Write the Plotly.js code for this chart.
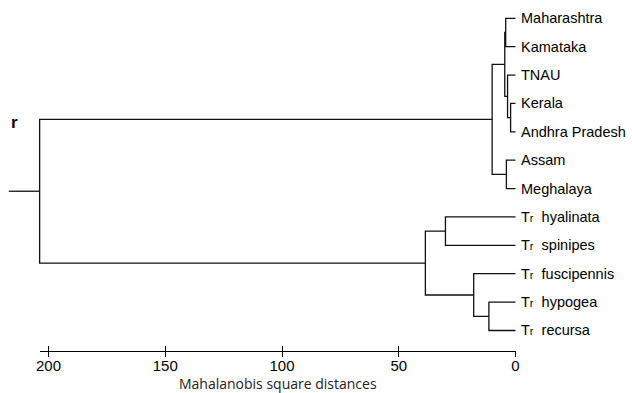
<!DOCTYPE html>
<html>
<head>
<meta charset="utf-8">
<script src="https://cdn.plot.ly/plotly-3.0.1.min.js"></script>
<style>html,body{margin:0;padding:0;background:#fff;}#chart{width:632px;height:393px;}</style>
</head>
<body>
<div id="chart"></div>
<script>
// Leaves, top to bottom
const leafLabels = [
  'Maharashtra', 'Kamataka', 'TNAU', 'Kerala', 'Andhra Pradesh', 'Assam', 'Meghalaya',
  'T<span style="font-size:11px">r</span>\u00a0 hyalinata',
  'T<span style="font-size:11px">r</span>\u00a0 spinipes',
  'T<span style="font-size:11px">r</span>\u00a0 fuscipennis',
  'T<span style="font-size:11px">r</span>\u00a0 hypogea',
  'T<span style="font-size:11px">r</span>\u00a0 recursa'
];
// Linkage (scipy style: leaves 0..11, new clusters 12, 13, ...)
const mergeLeft   = [3, 2, 5, 0, 15, 16, 10, 9, 7, 20, 17];
const mergeRight  = [4, 12, 6, 1, 13, 14, 11, 18, 8, 19, 21];
const mergeHeight = [2.1, 3.4, 3.9, 4.2, 4.6, 10.0, 11.4, 17.9, 30.0, 38.6, 203.8];
const rootStubEnd = 217;
// Axis ticks
const tickValues = [0, 50, 100, 150, 200];
const tickLabels = ['0', '50', '100', '150', '200'];
const axisTitle = 'Mahalanobis square distances';

// Build dendrogram segments
const nLeaves = leafLabels.length;
const nodeX = [], nodeY = [];
for (let i = 0; i < nLeaves; i++) { nodeX.push(0); nodeY.push(i); }
const xs = [], ys = [];
for (let m = 0; m < mergeLeft.length; m++) {
  const a = mergeLeft[m], b = mergeRight[m], h = mergeHeight[m];
  xs.push(nodeX[a], h, h, nodeX[b], null);
  ys.push(nodeY[a], nodeY[a], nodeY[b], nodeY[b], null);
  nodeX.push(h); nodeY.push((nodeY[a] + nodeY[b]) / 2);
}
const root = nodeX.length - 1;
xs.push(nodeX[root], rootStubEnd);
ys.push(nodeY[root], nodeY[root]);

const traces = [
  {x: xs, y: ys, mode: 'lines', type: 'scatter', line: {color: '#111', width: 1.3},
   hoverinfo: 'skip', showlegend: false, xaxis: 'x', yaxis: 'y'},
  {x: [100], y: [0], mode: 'markers', marker: {opacity: 0}, hoverinfo: 'skip', showlegend: false, xaxis: 'x2', yaxis: 'y'},
  {x: [100], y: [0], mode: 'markers', marker: {opacity: 0}, hoverinfo: 'skip', showlegend: false, xaxis: 'x3', yaxis: 'y'}
];

const annotations = leafLabels.map((t, i) => ({
  x: 0, y: i, xref: 'x', yref: 'y', text: t, showarrow: false,
  xanchor: 'left', yanchor: 'middle', xshift: 3,
  font: {family: 'Liberation Sans, Arial, sans-serif', size: 14.5, color: '#000'}
}));
annotations.push({
  x: 14 / 632, y: (351 - 122) / 341, xref: 'paper', yref: 'paper', text: '<b>r</b>',
  showarrow: false, xanchor: 'center', yanchor: 'middle',
  font: {family: 'Liberation Sans, Arial, sans-serif', size: 17, color: '#000'}
});

const axDomain = [40 / 632, 515.5 / 632];
const layout = {
  width: 632, height: 393,
  margin: {l: 0, r: 0, t: 10, b: 42},
  paper_bgcolor: '#fff', plot_bgcolor: 'rgba(0,0,0,0)',
  showlegend: false,
  xaxis: {domain: [0, 1], range: [515.5 / 2.335, -116.5 / 2.335], visible: false, fixedrange: true},
  xaxis2: {
    domain: axDomain, range: [475.5 / 2.335, 0], anchor: 'y', side: 'bottom',
    showline: true, linecolor: '#000', linewidth: 1.3, showgrid: false, zeroline: false,
    ticks: 'outside', ticklen: 5, tickwidth: 1, tickcolor: '#000',
    tickmode: 'array', tickvals: tickValues, ticktext: tickLabels, ticklabelstandoff: -4,
    tickfont: {family: 'Liberation Sans Narrow, Arial Narrow, Liberation Sans, sans-serif', size: 15, color: '#000'},
    title: {text: axisTitle, standoff: 7, font: {family: 'Open Sans, sans-serif', size: 14, color: '#222'}},
    automargin: false
  },
  xaxis3: {
    domain: axDomain, range: [475.5 / 2.335, 0], anchor: 'y', side: 'bottom',
    showline: false, showgrid: false, zeroline: false, showticklabels: false,
    ticks: 'inside', ticklen: 5, tickwidth: 1, tickcolor: '#000',
    tickmode: 'array', tickvals: tickValues
  },
  yaxis: {range: [(351 - 18.3) / 28.38, (10 - 18.3) / 28.38], visible: false, fixedrange: true},
  annotations: annotations
};

Plotly.newPlot('chart', traces, layout, {displayModeBar: false, staticPlot: true});
</script>
</body>
</html>
